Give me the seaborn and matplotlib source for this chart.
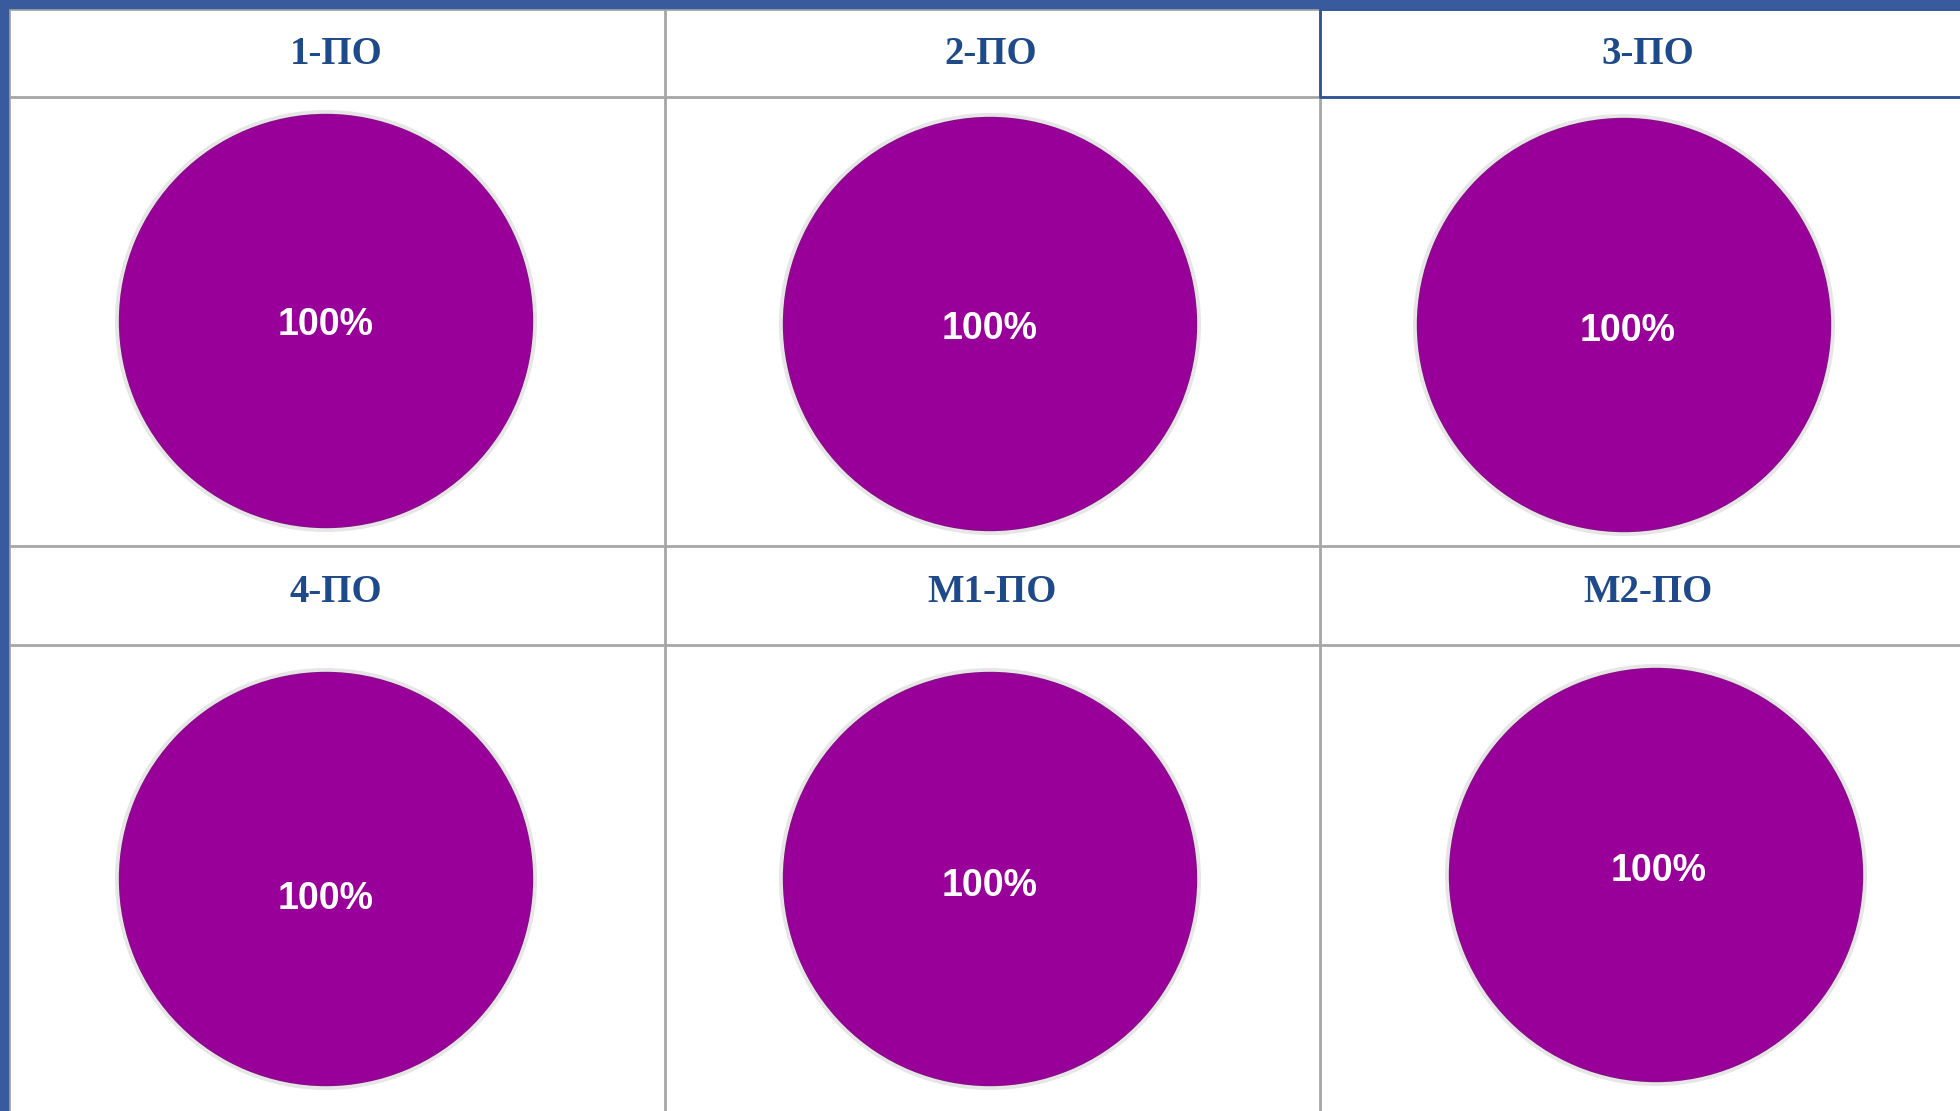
import matplotlib
matplotlib.use("Agg")
import matplotlib.pyplot as plt
import seaborn as sns

# ---- data ----
categories = ["1-ПО", "2-ПО", "3-ПО", "4-ПО", "М1-ПО", "М2-ПО"]
share_values = [100, 100, 100, 100, 100, 100]
label_format = "{:.0f}%"

# ---- style ----
sns.set_theme(style="white")
plt.rcParams["font.family"] = ["Liberation Sans", "DejaVu Sans"]

W, H = 1960, 1111
fig = plt.figure(figsize=(W / 100, H / 100), dpi=100)
fig.patch.set_facecolor("white")

bg = fig.add_axes([0, 0, 1, 1])
bg.set_xlim(0, W)
bg.set_ylim(H, 0)
bg.axis("off")

grid_c = "#A6A6A6"
border_c = "#3A5A9E"
title_c = "#1F4A8A"
fill_c = "#990099"

col_edges = [9, 665, 1320, 1990]
row_title = [(9, 97), (546, 645)]

# table lines
for (t0, t1) in row_title:
    bg.plot([0, W], [t0, t0], color=grid_c, lw=2, zorder=1)
    bg.plot([0, W], [t1, t1], color=grid_c, lw=2, zorder=1)
for x in col_edges[:-1]:
    bg.plot([x, x], [0, H], color=grid_c, lw=2, zorder=1)
# highlighted cell
bg.plot([W + 5, 1320, 1320, W + 5], [9, 9, 97, 97], color="#2F5597", lw=2, zorder=2)
# outer blue frame
bg.add_patch(plt.Rectangle((0, 0), W, 8, color=border_c, zorder=3))
bg.add_patch(plt.Rectangle((0, 0), 8, H, color=border_c, zorder=3))

# layout
centers = [(326, 321), (990, 324), (1624, 325), (326, 879), (990, 879), (1656, 875)]
label_shift = [(0, 4), (0, 5), (4, 6), (0, 20), (0, 7), (3, -4)]
title_pos = [(336, 54), (991, 54), (1648, 54), (336, 593), (992, 593), (1648, 593)]
R = 211

for i, (cat, val) in enumerate(zip(categories, share_values)):
    cx, cy = centers[i]
    ax = fig.add_axes([(cx - R) / W, 1 - (cy + R) / H, 2 * R / W, 2 * R / H])
    ax.pie([1], radius=1.0, colors=["#E6E6E6"], startangle=90,
           wedgeprops=dict(linewidth=0))
    ax.pie([val], radius=0.978, colors=[fill_c], startangle=90,
           wedgeprops=dict(edgecolor="#8C0A8C", linewidth=1.2))
    ax.set_xlim(-1, 1)
    ax.set_ylim(-1, 1)
    ax.set_aspect("auto")
    ax.axis("off")
    dx, dy = label_shift[i]
    ax.text(dx / R, -dy / R, label_format.format(val), ha="center", va="center",
            color="white", fontsize=27, fontweight="bold")
    tx, ty = title_pos[i]
    bg.text(tx, ty, cat, ha="center", va="center", color=title_c,
            fontsize=28, fontweight="bold", family=["Liberation Serif", "DejaVu Serif"])

fig.savefig("out.png", dpi=100, facecolor="white")
